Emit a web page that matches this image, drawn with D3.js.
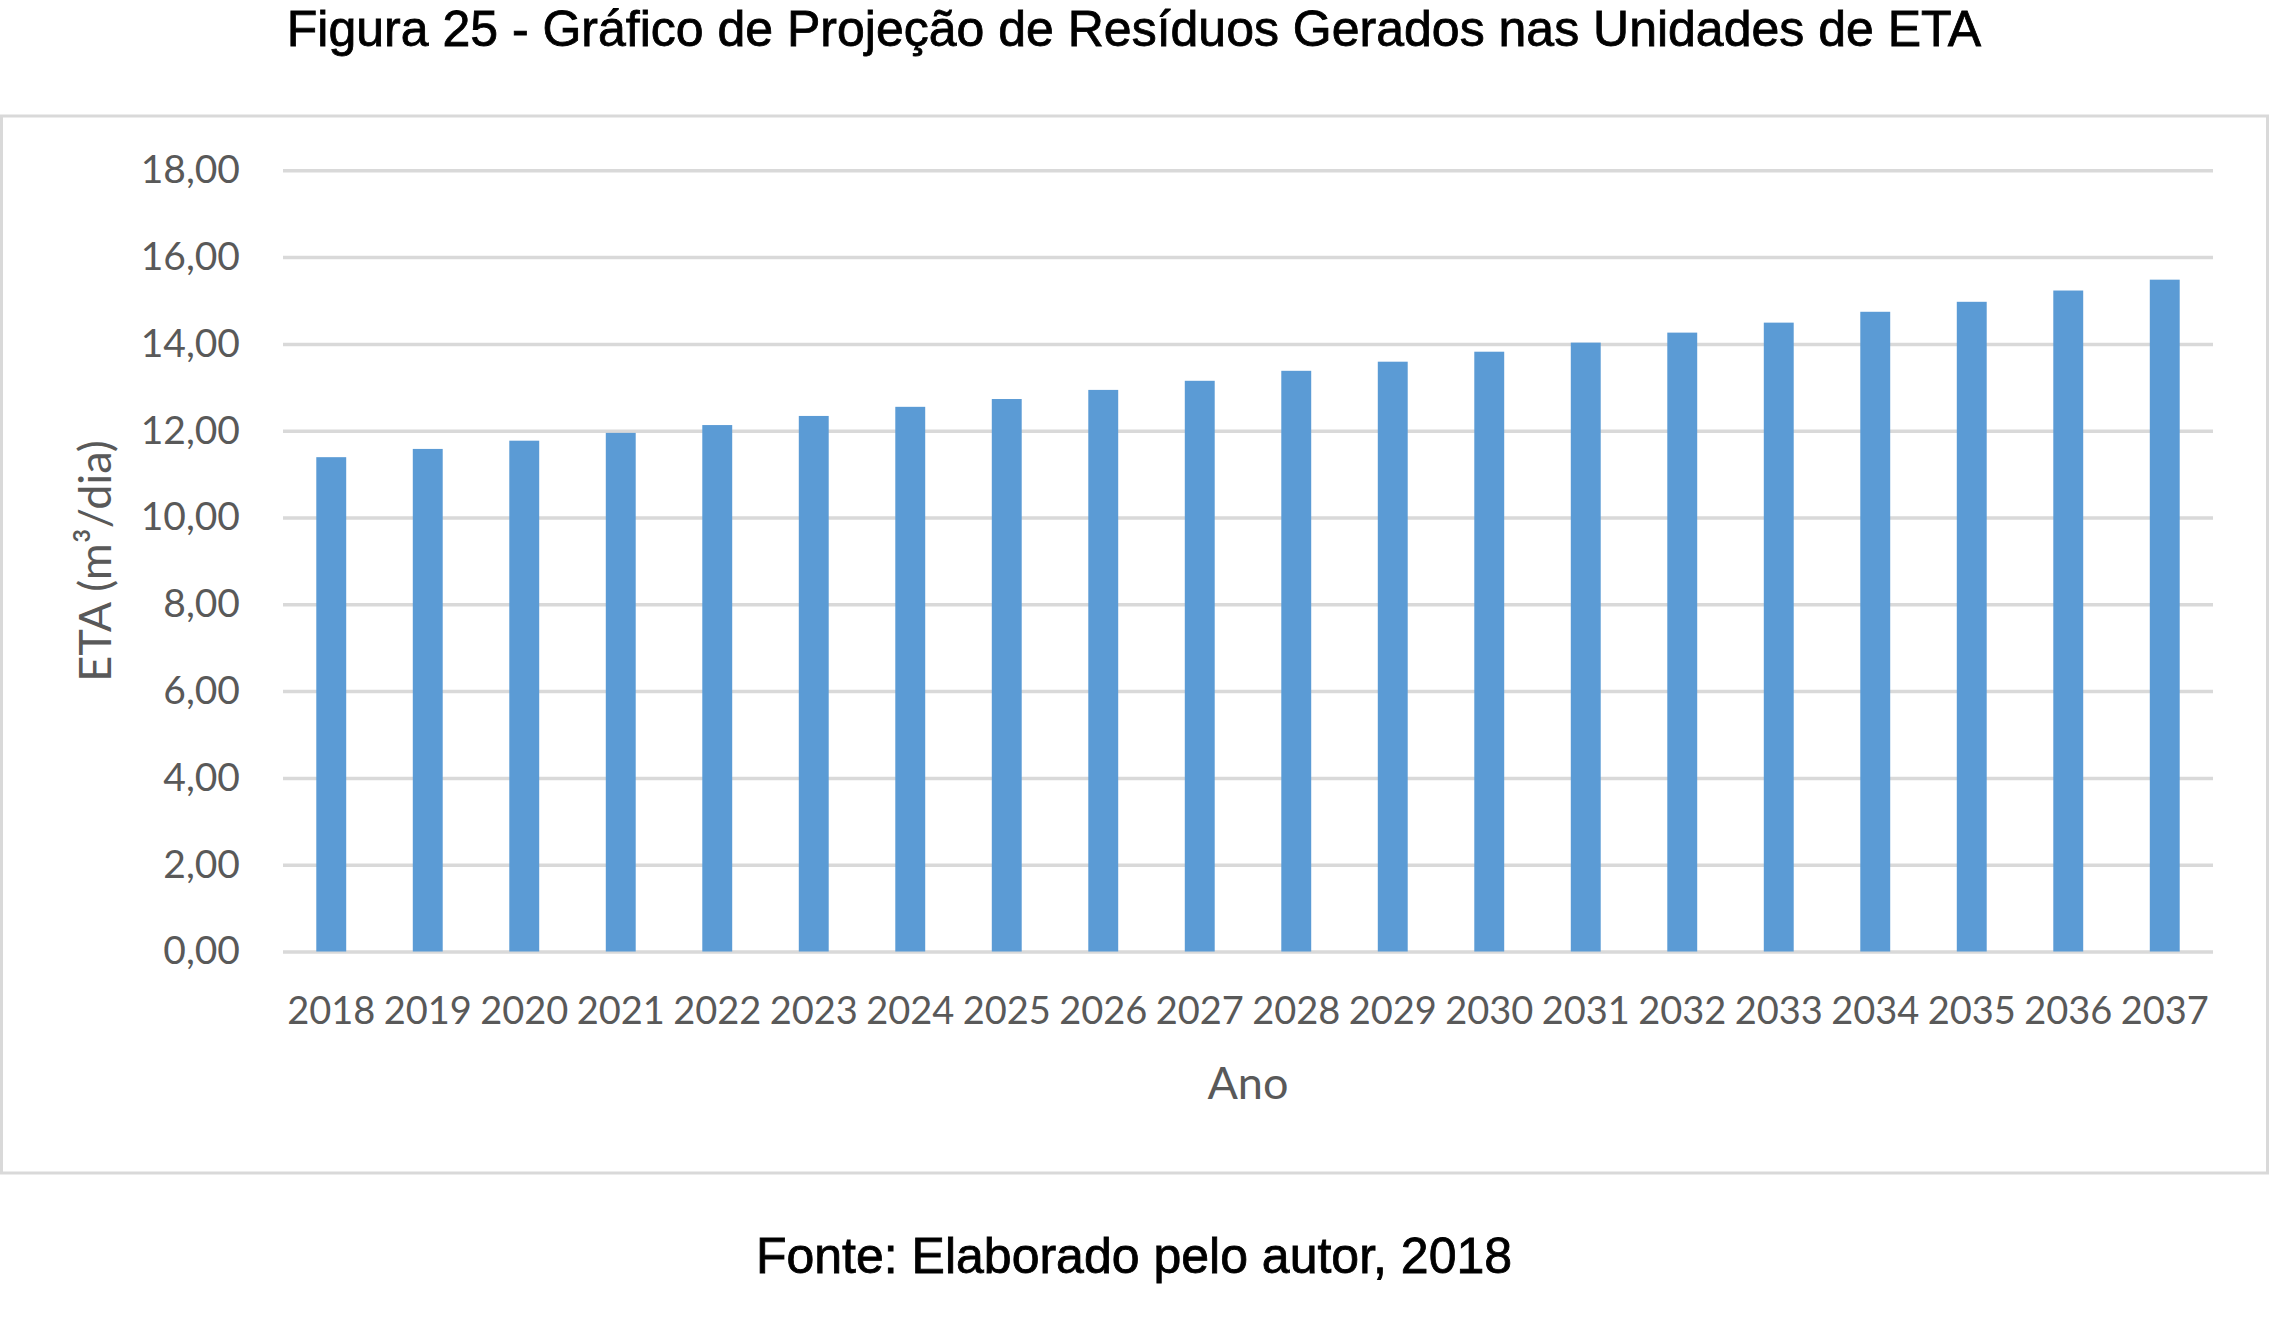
<!DOCTYPE html>
<html>
<head>
<meta charset="utf-8">
<script src="https://cdn.jsdelivr.net/npm/d3@7"></script>
<style>
  html, body { margin: 0; padding: 0; background: #ffffff; }
  svg { display: block; }
</style>
</head>
<body>
<svg id="chart" width="2274" height="1330"></svg>
<script>
const categories = ["2018","2019","2020","2021","2022","2023","2024","2025","2026","2027",
                    "2028","2029","2030","2031","2032","2033","2034","2035","2036","2037"];
const values = [11.39, 11.58, 11.77, 11.95, 12.13, 12.34, 12.55, 12.73, 12.94, 13.15,
                13.38, 13.59, 13.82, 14.03, 14.26, 14.49, 14.74, 14.97, 15.23, 15.48];
const yTicks = [0, 2, 4, 6, 8, 10, 12, 14, 16, 18];
const titleText = "Figura 25 - Gráfico de Projeção de Resíduos Gerados nas Unidades de ETA";
const sourceText = "Fonte: Elaborado pelo autor, 2018";
const yAxisTitle = "ETA (m³/dia)";
const xAxisTitle = "Ano";

const svg = d3.select("#chart");

const plot = { left: 283, right: 2213, top: 170.3, bottom: 951.5 };
const labelFont = "Lato, 'Open Sans', sans-serif";
const gray = "#595959";

// Title
svg.append("text")
  .attr("x", 1134).attr("y", 46)
  .attr("text-anchor", "middle")
  .style("font-family", "'Liberation Sans', Arial, sans-serif")
  .style("font-size", "50px")
  .attr("fill", "#000")
  .attr("stroke", "#000")
  .attr("stroke-width", 0.8)
  .text(titleText);

// Chart frame
svg.append("rect")
  .attr("x", 1.5).attr("y", 116)
  .attr("width", 2266).attr("height", 1057)
  .attr("fill", "#fff")
  .attr("stroke", "#d9d9d9")
  .attr("stroke-width", 3);

const x = d3.scaleBand()
  .domain(categories)
  .range([plot.left, plot.right])
  .paddingInner(0.69)
  .paddingOuter(0.345);

const y = d3.scaleLinear()
  .domain([0, 18])
  .range([plot.bottom, plot.top]);

// Gridlines + tick labels via axis
const yAxis = d3.axisLeft(y)
  .tickValues(yTicks)
  .tickSize(-(plot.right - plot.left))
  .tickPadding(43)
  .tickFormat(d => d3.format(".2f")(d).replace(".", ","));

const gy = svg.append("g")
  .attr("transform", `translate(${plot.left},0)`)
  .call(yAxis);
gy.select(".domain").remove();
gy.selectAll(".tick line")
  .attr("stroke", "#d9d9d9")
  .attr("stroke-width", 3.5);
gy.selectAll(".tick text")
  .attr("fill", gray)
  .style("font-family", labelFont)
  .style("font-size", "39px");

// Bars
svg.append("g").selectAll("rect")
  .data(values)
  .join("rect")
  .attr("x", (d, i) => x(categories[i]))
  .attr("width", x.bandwidth())
  .attr("y", d => y(d))
  .attr("height", d => y(0) - y(d))
  .attr("fill", "#5b9bd5");

// X axis labels
const xAxis = d3.axisBottom(x).tickSize(0).tickPadding(46);
const gx = svg.append("g")
  .attr("transform", `translate(0,${plot.bottom})`)
  .call(xAxis);
gx.select(".domain").remove();
gx.selectAll(".tick text")
  .attr("fill", gray)
  .style("font-family", labelFont)
  .style("font-size", "38px");

// Axis titles
svg.append("text")
  .attr("transform", `translate(111,561) rotate(-90)`)
  .attr("text-anchor", "middle")
  .attr("fill", gray)
  .style("font-family", labelFont)
  .style("font-size", "45px")
  .text(yAxisTitle);

svg.append("text")
  .attr("x", (plot.left + plot.right) / 2).attr("y", 1099)
  .attr("text-anchor", "middle")
  .attr("fill", gray)
  .style("font-family", labelFont)
  .style("font-size", "45px")
  .text(xAxisTitle);

// Source
svg.append("text")
  .attr("x", 1134).attr("y", 1273)
  .attr("text-anchor", "middle")
  .style("font-family", "'Liberation Sans', Arial, sans-serif")
  .style("font-size", "50px")
  .attr("fill", "#000")
  .attr("stroke", "#000")
  .attr("stroke-width", 0.8)
  .text(sourceText);
</script>
</body>
</html>
